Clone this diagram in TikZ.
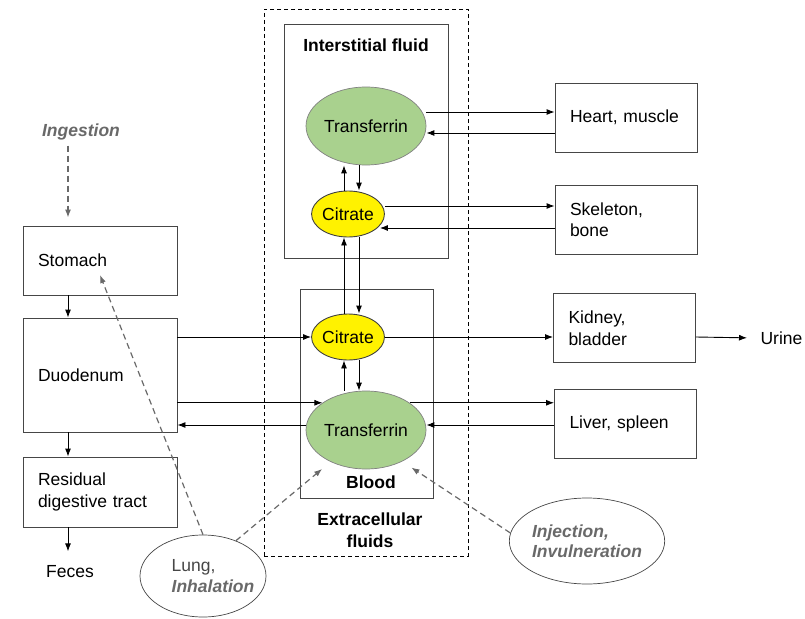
\documentclass[tikz,border=0pt]{standalone}
\usepackage{fontspec}
\setmainfont{Liberation Sans}
\usetikzlibrary{arrows.meta,shapes.geometric,positioning}
\definecolor{tfgreen}{RGB}{169,209,142}
\definecolor{labelgray}{RGB}{105,105,105}
\definecolor{boxgray}{RGB}{70,70,70}

\begin{document}
\begin{tikzpicture}[x=1pt,y=-1pt,
  font=\fontsize{17.5}{21.5}\selectfont,
  organ/.style={draw=boxgray,line width=0.9pt,minimum width=142pt,minimum height=69pt,text width=112pt,inner xsep=15pt,align=left},
  gutbox/.style={organ,minimum width=154pt,text width=124pt},
  region/.style={draw=boxgray,line width=0.9pt,inner sep=0pt},
  tf/.style={ellipse,draw=gray,line width=0.7pt,fill=tfgreen,minimum width=120pt,minimum height=78pt,inner sep=0pt},
  cit/.style={ellipse,draw=black!75,line width=0.9pt,fill=yellow,minimum width=68pt,minimum height=46pt,inner sep=0pt},
  route/.style={ellipse,draw=boxgray,line width=0.7pt,inner sep=0pt,align=left},
  flow/.style={-{Latex[length=8pt,width=6pt]},line width=0.9pt},
  entry/.style={-{Latex[length=8pt,width=6pt]},dash pattern=on 6pt off 4pt,draw=labelgray,line width=1.2pt},
  title/.style={font=\fontsize{17.5}{21.5}\selectfont\bfseries,align=center},
  via/.style={text=labelgray,font=\fontsize{17.5}{21.5}\selectfont\bfseries\itshape}]
\useasboundingbox (0,0) rectangle (805,618);

\node[draw,dash pattern=on 4pt off 3pt,line width=0.8pt,minimum width=204pt,minimum height=547pt,inner sep=0pt] (ecf) at (366,282.5) {};
\node[region,minimum width=164pt,minimum height=234pt] (isf) at (366,141) {};
\node[region,minimum width=133pt,minimum height=209pt] (blood) at (366.5,393.5) {};
\node[title] (isftitle) at (366,45) {Interstitial fluid};
\node[title] (bloodtitle) at (371,482) {Blood};
\node[title] (ecftitle) at (370,530) {Extracellular\\fluids};

\node[tf] (tfI) at (366,126) {Transferrin};
\node[cit] (ctI) at (348,214) {Citrate};
\node[cit] (ctB) at (348,337) {Citrate};
\node[tf] (tfB) at (366,430) {Transferrin};

\node[gutbox,minimum height=69pt] (sto) at (100,260.5) {Stomach};
\node[gutbox,minimum height=114pt] (duo) at (100,375) {Duodenum};
\node[gutbox,minimum height=70pt] (res) at (100,492) {Residual\\digestive tract};
\node (fec) at (70,572) {Feces};
\node[via] (ing) at (81,132) {Ingestion};

\node[organ] (hm) at (626,117.5) {Heart, muscle};
\node[organ] (sk) at (626,219.5) {Skeleton,\\bone};
\node[organ,minimum width=141pt] (kid) at (624.5,328) {Kidney,\\bladder};
\node[organ] (liv) at (625.5,424) {Liver, spleen};
\node[anchor=west] (urine) at (757,338) {Urine};

\node[route,inner xsep=-10pt,minimum width=126pt,minimum height=82pt] (lung) at (203,576) {\hspace*{20pt}\textcolor{boxgray}{Lung,}\\\hspace*{20pt}\textcolor{labelgray}{\bfseries\itshape Inhalation}};
\node[route,minimum width=139pt,minimum height=86pt,text=labelgray,font=\fontsize{17.5}{20}\selectfont\bfseries\itshape] (inj) at (587,541) {Injection,\\Invulneration};

\coordinate (gutline) at (68,0);
\coordinate (upline) at (344,0);
\coordinate (downline) at (359,0);

\draw[entry,shorten <=2pt,shorten >=8pt] (gutline |- ing.south) -- (gutline |- sto.north);
\draw[flow] (gutline |- sto.south) -- (gutline |- duo.north);
\draw[flow] (gutline |- duo.south) -- (gutline |- res.north);
\draw[flow,shorten >=11pt] (gutline |- res.south) -- (gutline |- fec.north);

\draw[flow] (upline |- ctI.north) -- (upline |- tfI.south);
\draw[flow] (downline |- tfI.south) -- (downline |- ctI.north);
\draw[flow] (upline |- ctB.north) -- (upline |- ctI.south);
\draw[flow] (downline |- ctI.south) -- (downline |- ctB.north);
\draw[flow] (upline |- tfB.north) -- (upline |- ctB.south);
\draw[flow] (downline |- ctB.south) -- (downline |- tfB.north);

\draw[flow] ([yshift=14pt]tfI.east) -- ([yshift=14pt]tfI.east -| hm.west);
\draw[flow] ([yshift=-7pt]tfI.east -| hm.west) -- ([yshift=-7pt]tfI.east);
\draw[flow] ([yshift=8pt]ctI.east) -- ([yshift=8pt]ctI.east -| sk.west);
\draw[flow] ([yshift=-14pt]ctI.east -| sk.west) -- ([yshift=-14pt,xshift=-5pt]ctI.east);
\draw[flow] (duo.east |- ctB.west) -- (ctB.west);
\draw[flow] (ctB.east) -- (ctB.east -| kid.west);
\draw[flow,shorten >=10pt] (ctB.east -| kid.east) -- (urine.west);
\draw[flow] (duo.east |- tfB.148) -- (tfB.148);
\draw[flow] ([yshift=5pt]tfB.west) -- ([yshift=5pt]tfB.west -| duo.east);
\draw[flow] (tfB.32) -- (tfB.32 -| liv.west);
\draw[flow] ([yshift=5pt]tfB.east -| liv.west) -- ([yshift=5pt]tfB.east);

\draw[entry] (lung.north) -- ([yshift=-14.5pt]sto.center);
\draw[entry,shorten >=11pt] (lung.47) -- (tfB.222);
\draw[entry,shorten >=11pt] (inj.174) -- (tfB.-41);
\end{tikzpicture}
\end{document}
